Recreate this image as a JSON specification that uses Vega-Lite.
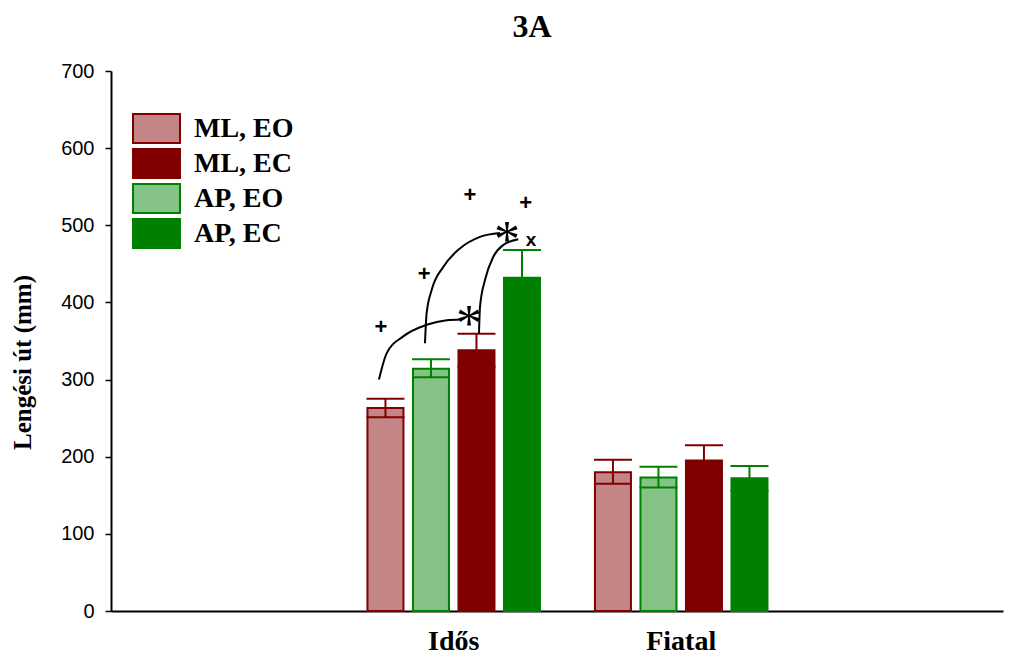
{
  "$schema": "https://vega.github.io/schema/vega-lite/v6.json",
  "width": 892,
  "height": 540,
  "autosize": {"type": "none"},
  "padding": {"left": 111, "top": 71, "right": 8, "bottom": 43},
  "background": "white",
  "title": {"text": "3A", "font": "Liberation Serif", "fontSize": 32, "fontWeight": "bold", "color": "black", "anchor": "middle", "frame": "group", "dx": -25, "baseline": "alphabetic", "offset": -8},
  "config": {"view": {"stroke": null}, "axis": {"grid": false}},
  "datasets": {
    "bars": [
      {"group": "Idős", "series": "ML, EO", "mean": 263, "lo": 251, "hi": 275},
      {"group": "Idős", "series": "AP, EO", "mean": 314, "lo": 303, "hi": 326.5},
      {"group": "Idős", "series": "ML, EC", "mean": 338, "lo": 317, "hi": 359.5},
      {"group": "Idős", "series": "AP, EC", "mean": 432, "lo": 396, "hi": 468},
      {"group": "Fiatal", "series": "ML, EO", "mean": 180, "lo": 165, "hi": 196},
      {"group": "Fiatal", "series": "AP, EO", "mean": 173, "lo": 160, "hi": 187},
      {"group": "Fiatal", "series": "ML, EC", "mean": 195, "lo": 175, "hi": 215},
      {"group": "Fiatal", "series": "AP, EC", "mean": 172, "lo": 156, "hi": 188}
    ],
    "curves": [
      {"group": "Idős", "curve": 1, "i": 1, "slot": 0.357, "mm": 300},
      {"group": "Idős", "curve": 1, "i": 2, "slot": 0.526, "mm": 334},
      {"group": "Idős", "curve": 1, "i": 3, "slot": 0.891, "mm": 356},
      {"group": "Idős", "curve": 1, "i": 4, "slot": 1.405, "mm": 371},
      {"group": "Idős", "curve": 1, "i": 5, "slot": 1.845, "mm": 377},
      {"group": "Idős", "curve": 1, "i": 6, "slot": 2.175, "mm": 378},
      {"group": "Idős", "curve": 2, "i": 1, "slot": 1.368, "mm": 347},
      {"group": "Idős", "curve": 2, "i": 2, "slot": 1.405, "mm": 386},
      {"group": "Idős", "curve": 2, "i": 3, "slot": 1.515, "mm": 416},
      {"group": "Idős", "curve": 2, "i": 4, "slot": 1.77, "mm": 446},
      {"group": "Idős", "curve": 2, "i": 5, "slot": 2.137, "mm": 470},
      {"group": "Idős", "curve": 2, "i": 6, "slot": 2.577, "mm": 485},
      {"group": "Idős", "curve": 2, "i": 7, "slot": 3.016, "mm": 490},
      {"group": "Idős", "curve": 3, "i": 1, "slot": 2.555, "mm": 360},
      {"group": "Idős", "curve": 3, "i": 2, "slot": 2.577, "mm": 394},
      {"group": "Idős", "curve": 3, "i": 3, "slot": 2.687, "mm": 429},
      {"group": "Idős", "curve": 3, "i": 4, "slot": 2.869, "mm": 459},
      {"group": "Idős", "curve": 3, "i": 5, "slot": 3.089, "mm": 474.5},
      {"group": "Idős", "curve": 3, "i": 6, "slot": 3.419, "mm": 482}
    ],
    "signs": [
      {"group": "Idős", "kind": "plus", "sym": "+", "slot": 0.401, "mm": 368.5},
      {"group": "Idős", "kind": "plus", "sym": "+", "slot": 1.353, "mm": 436.5},
      {"group": "Idős", "kind": "plus", "sym": "+", "slot": 2.357, "mm": 539.3},
      {"group": "Idős", "kind": "plus", "sym": "+", "slot": 3.581, "mm": 528.5},
      {"group": "Idős", "kind": "star", "sym": "*", "slot": 2.335, "mm": 381.5},
      {"group": "Idős", "kind": "star", "sym": "*", "slot": 3.17, "mm": 489.5},
      {"group": "Idős", "kind": "x", "sym": "x", "slot": 3.698, "mm": 481}
    ]
  },
  "layer": [
    {
      "data": {"name": "bars"},
      "mark": {"type": "bar", "strokeWidth": 2},
      "encoding": {
        "x": {
          "field": "group", "type": "nominal",
          "scale": {"domain": ["Idős", "Fiatal"], "paddingInner": 0.079, "paddingOuter": 1, "align": 0.523, "round": false},
          "axis": {"title": null, "labelAngle": 0, "labelFont": "Liberation Serif", "labelFontSize": 28, "labelFontWeight": "bold", "labelColor": "black", "ticks": false, "labelPadding": 16, "domainColor": "black", "domainWidth": 2}
        },
        "xOffset": {
          "field": "series", "type": "nominal",
          "scale": {"domain": ["ML, EO", "AP, EO", "ML, EC", "AP, EC"], "paddingInner": 0.209, "paddingOuter": 0.4066}
        },
        "y": {
          "field": "mean", "type": "quantitative",
          "scale": {"domain": [0, 700], "nice": false},
          "axis": {"title": "Lengési út (mm)", "titleFont": "Liberation Serif", "titleFontSize": 25, "titleFontWeight": "bold", "titleColor": "black", "titleX": -89, "titleY": 291, "titleAngle": -90, "titleAlign": "center", "titleBaseline": "middle", "values": [0, 100, 200, 300, 400, 500, 600, 700], "labelFont": "Liberation Sans", "labelFontSize": 20, "labelColor": "black", "tickSize": 6, "tickColor": "black", "tickWidth": 1.5, "labelPadding": 11, "domainColor": "black", "domainWidth": 2}
        },
        "fill": {
          "field": "series", "type": "nominal",
          "scale": {"domain": ["ML, EO", "ML, EC", "AP, EO", "AP, EC"], "range": ["#c38585", "#800000", "#85c285", "#008000"]},
          "legend": {"title": null, "orient": "none", "legendX": 30, "legendY": 42, "padding": 0, "symbolType": "M-1.62,-1H1.62V1H-1.62Z", "symbolSize": 841, "symbolStrokeWidth": 2, "symbolOpacity": 1, "labelFont": "Liberation Serif", "labelFontSize": 28, "labelFontWeight": "bold", "labelColor": "black", "labelOffset": 22, "rowPadding": -2}
        },
        "stroke": {
          "field": "series", "type": "nominal",
          "scale": {"domain": ["ML, EO", "ML, EC", "AP, EO", "AP, EC"], "range": ["#800000", "#800000", "#008000", "#008000"]},
          "legend": {"title": null, "orient": "none", "legendX": 30, "legendY": 42, "padding": 0, "symbolType": "M-1.62,-1H1.62V1H-1.62Z", "symbolSize": 841, "symbolStrokeWidth": 2, "symbolOpacity": 1, "labelFont": "Liberation Serif", "labelFontSize": 28, "labelFontWeight": "bold", "labelColor": "black", "labelOffset": 22, "rowPadding": -2}
        }
      }
    },
    {
      "data": {"name": "bars"},
      "mark": {"type": "rule", "strokeWidth": 2},
      "encoding": {
        "x": {"field": "group", "type": "nominal"},
        "xOffset": {"field": "series", "type": "nominal", "scale": {"domain": ["ML, EO", "AP, EO", "ML, EC", "AP, EC"], "paddingInner": 0.209, "paddingOuter": 0.4066}},
        "y": {"field": "lo", "type": "quantitative"},
        "y2": {"field": "hi"},
        "color": {"field": "series", "type": "nominal", "scale": {"domain": ["ML, EO", "ML, EC", "AP, EO", "AP, EC"], "range": ["#800000", "#800000", "#008000", "#008000"]}, "legend": null}
      }
    },
    {
      "data": {"name": "bars"},
      "mark": {"type": "tick", "thickness": 2, "size": 38, "opacity": 1},
      "encoding": {
        "x": {"field": "group", "type": "nominal"},
        "xOffset": {"field": "series", "type": "nominal", "scale": {"domain": ["ML, EO", "AP, EO", "ML, EC", "AP, EC"], "paddingInner": 0.209, "paddingOuter": 0.4066}},
        "y": {"field": "hi", "type": "quantitative"},
        "color": {"field": "series", "type": "nominal", "legend": null}
      }
    },
    {
      "data": {"name": "bars"},
      "mark": {"type": "tick", "thickness": 2, "size": 38, "opacity": 1},
      "encoding": {
        "x": {"field": "group", "type": "nominal"},
        "xOffset": {"field": "series", "type": "nominal", "scale": {"domain": ["ML, EO", "AP, EO", "ML, EC", "AP, EC"], "paddingInner": 0.209, "paddingOuter": 0.4066}},
        "y": {"field": "lo", "type": "quantitative"},
        "color": {"field": "series", "type": "nominal", "legend": null}
      }
    },
    {
      "data": {"name": "curves"},
      "mark": {"type": "line", "interpolate": "monotone", "stroke": "black", "strokeWidth": 2},
      "encoding": {
        "x": {"field": "group", "type": "nominal"},
        "xOffset": {"field": "slot", "type": "quantitative", "scale": {"domain": [-0.302, 4.302], "nice": false, "zero": false}},
        "y": {"field": "mm", "type": "quantitative"},
        "detail": {"field": "curve"},
        "order": {"field": "i"}
      }
    },
    {
      "data": {"name": "signs"},
      "transform": [{"filter": "datum.kind == 'plus'"}],
      "mark": {"type": "text", "font": "Liberation Sans", "fontWeight": "bold", "fontSize": 22, "color": "black", "align": "center", "baseline": "middle"},
      "encoding": {
        "x": {"field": "group", "type": "nominal"},
        "xOffset": {"field": "slot", "type": "quantitative", "scale": {"domain": [-0.302, 4.302], "nice": false, "zero": false}},
        "y": {"field": "mm", "type": "quantitative"},
        "text": {"field": "sym"}
      }
    },
    {
      "data": {"name": "signs"},
      "transform": [{"filter": "datum.kind == 'star'"}],
      "mark": {"type": "text", "font": "Liberation Serif", "fontSize": 52, "color": "black", "align": "center", "baseline": "alphabetic", "dy": 24},
      "encoding": {
        "x": {"field": "group", "type": "nominal"},
        "xOffset": {"field": "slot", "type": "quantitative", "scale": {"domain": [-0.302, 4.302], "nice": false, "zero": false}},
        "y": {"field": "mm", "type": "quantitative"},
        "text": {"field": "sym"}
      }
    },
    {
      "data": {"name": "signs"},
      "transform": [{"filter": "datum.kind == 'x'"}],
      "mark": {"type": "text", "font": "Liberation Sans", "fontWeight": "bold", "fontSize": 19, "color": "black", "align": "center", "baseline": "middle"},
      "encoding": {
        "x": {"field": "group", "type": "nominal"},
        "xOffset": {"field": "slot", "type": "quantitative", "scale": {"domain": [-0.302, 4.302], "nice": false, "zero": false}},
        "y": {"field": "mm", "type": "quantitative"},
        "text": {"field": "sym"}
      }
    }
  ],
  "resolve": {"scale": {"xOffset": "independent"}}
}
